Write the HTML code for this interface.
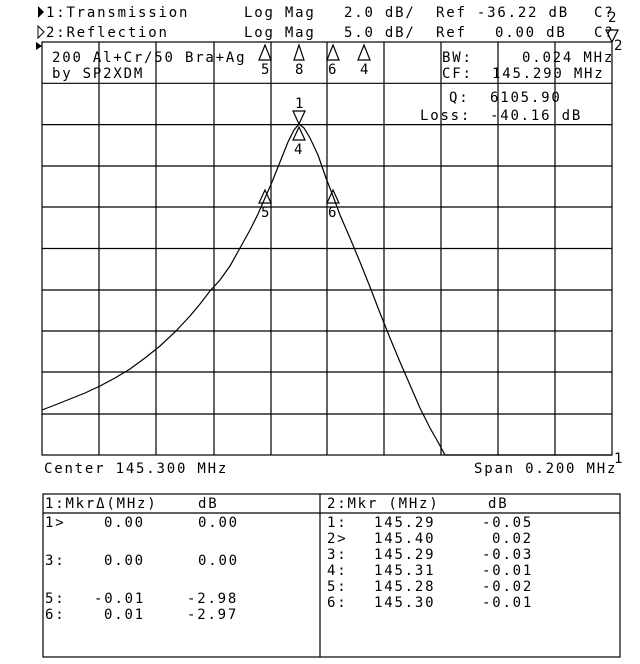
<!DOCTYPE html>
<html><head><style>
body{margin:0;background:#fff;width:640px;height:659px;overflow:hidden}
svg text{font-family:"DejaVu Sans Mono","Liberation Mono",monospace;font-size:14px;letter-spacing:1.8px;fill:#000}
</style></head><body>
<svg width="640" height="659" xmlns="http://www.w3.org/2000/svg">
<g stroke="#000" stroke-width="1.2" fill="none">
<rect x="42" y="42" width="570" height="413"/>
<path d="M99 42V455M156 42V455M214 42V455M271 42V455M327 42V455M384 42V455M441 42V455M498 42V455M555 42V455"/>
<path d="M42 83.3H612M42 124.6H612M42 166H612M42 207H612M42 248.5H612M42 290H612M42 331H612M42 372H612M42 414H612"/>
<path d="M42 410 L55 405 L70 399 L85 393 L100 386 L115 378 L130 369 L145 358 L160 346 L175 332 L190 316 L200 304 L210 291 L220 280 L230 266 L240 248 L250 230 L258 214 L265 198 L272 182 L280 162 L288 142 L294 130 L299 124 L304 128 L310 138 L318 155 L326 178 L333 196 L340 215 L350 238 L360 262 L370 287 L380 313 L390 338 L400 362 L410 385 L420 408 L430 428 L438 442 L445 455 L612 455"/>
<rect x="43" y="494" width="577" height="163"/>
<path d="M43 513H620M320 494V657"/>
</g>
<g stroke="#000" stroke-width="1.2" fill="none">
<path d="M293 111 L305 111 L299 124Z M293 140 L305 140 L299 127Z"/>
<path d="M259 203 L271 203 L265 190Z M327 203 L339 203 L333 190Z"/>
<path d="M259 60 L271 60 L265 45Z M294 60 L304 60 L299 45Z M327 60 L339 60 L333 45Z M358 60 L370 60 L364 45Z"/>
<path d="M606 30 L618 30 L612 42Z"/>
</g>
<path d="M36 42 L42 46 L36 50Z" fill="#000"/>
<path d="M38 6 L44 12 L38 18Z" fill="#000"/>
<path d="M38 26 L44 32 L38 38Z" fill="none" stroke="#000"/>
<text x="46" y="17">1:Transmission</text>
<text x="46" y="37">2:Reflection</text>
<text x="244" y="17">Log Mag</text><text x="244" y="37">Log Mag</text>
<text x="344" y="17">2.0 dB/</text><text x="344" y="37">5.0 dB/</text>
<text x="436" y="17">Ref -36.22 dB</text><text x="436" y="37">Ref</text><text x="495" y="37">0.00 dB</text>
<text x="594" y="17">C?</text><text x="594" y="37">C?</text>
<text x="608" y="22" font-size="12">2</text><text x="614" y="50" font-size="12">2</text>
<text x="52" y="62">200 Al+Cr/50 Bra+Ag</text>
<text x="52" y="78">by SP2XDM</text>
<text x="261" y="74" font-size="12">5</text><text x="295" y="74" font-size="12">8</text>
<text x="328" y="74" font-size="12">6</text><text x="360" y="74" font-size="12">4</text>
<text x="295" y="108" font-size="12">1</text><text x="294" y="154" font-size="12">4</text>
<text x="261" y="217" font-size="12">5</text><text x="328" y="217" font-size="12">6</text>
<text x="442" y="62">BW:</text><text x="522" y="62">0.024 MHz</text>
<text x="442" y="78">CF:</text><text x="492" y="78">145.290 MHz</text>
<text x="449" y="102">Q:</text><text x="490" y="102">6105.90</text>
<text x="420" y="120">Loss:</text><text x="490" y="120">-40.16 dB</text>
<text x="44" y="473">Center 145.300 MHz</text>
<text x="474" y="473">Span 0.200 MHz</text>
<text x="614" y="463" font-size="12">1</text>
<text x="45" y="508">1:MkrΔ(MHz)</text><text x="198" y="508">dB</text>
<text x="327" y="508">2:Mkr (MHz)</text><text x="488" y="508">dB</text>
<text x="45" y="527">1&gt;</text><text x="104" y="527">0.00</text><text x="198" y="527">0.00</text>
<text x="45" y="565">3:</text><text x="104" y="565">0.00</text><text x="198" y="565">0.00</text>
<text x="45" y="603">5:</text><text x="94" y="603">-0.01</text><text x="187" y="603">-2.98</text>
<text x="45" y="619">6:</text><text x="104" y="619">0.01</text><text x="187" y="619">-2.97</text>
<text x="327" y="527">1:</text><text x="374" y="527">145.29</text><text x="482" y="527">-0.05</text>
<text x="327" y="543">2&gt;</text><text x="374" y="543">145.40</text><text x="492" y="543">0.02</text>
<text x="327" y="559">3:</text><text x="374" y="559">145.29</text><text x="482" y="559">-0.03</text>
<text x="327" y="575">4:</text><text x="374" y="575">145.31</text><text x="482" y="575">-0.01</text>
<text x="327" y="591">5:</text><text x="374" y="591">145.28</text><text x="482" y="591">-0.02</text>
<text x="327" y="607">6:</text><text x="374" y="607">145.30</text><text x="482" y="607">-0.01</text>
</svg>
</body></html>
